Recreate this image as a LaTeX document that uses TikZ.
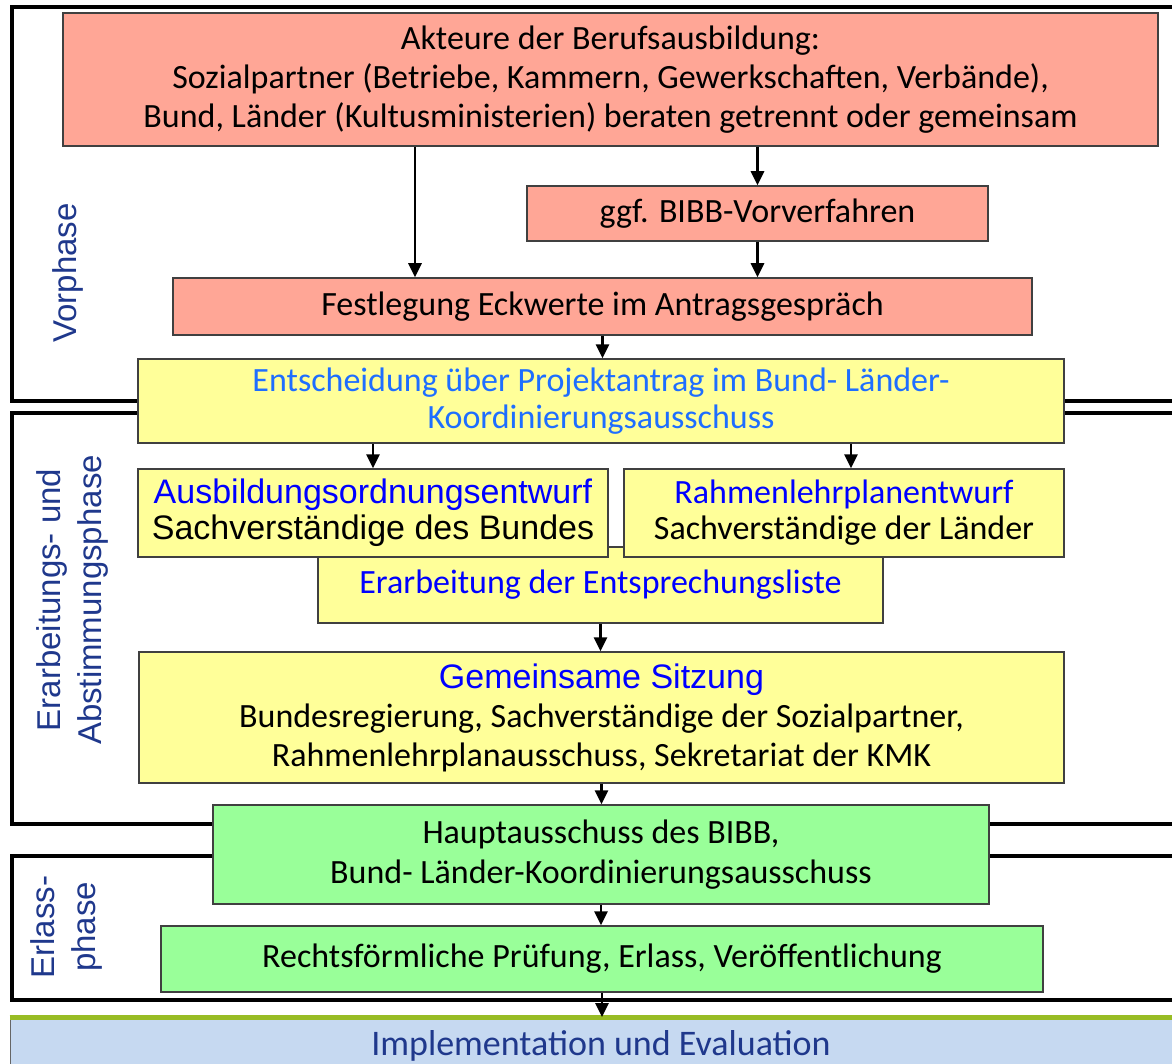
\documentclass[tikz,border=0pt]{standalone}
\usepackage{fontspec}
\setmainfont{Carlito}
\newfontfamily\arialfont{Liberation Sans}
\usetikzlibrary{arrows.meta}

\definecolor{lachs}{RGB}{255,166,150}
\definecolor{gelb}{RGB}{255,255,153}
\definecolor{hellgruen}{RGB}{153,255,153}
\definecolor{hellblau}{RGB}{198,217,241}
\definecolor{olivgruen}{RGB}{152,188,36}
\definecolor{phasenblau}{RGB}{31,56,140}
\definecolor{titelblau}{RGB}{0,0,255}
\definecolor{entschblau}{RGB}{30,110,255}

\tikzset{
  kasten/.style={draw=black!75, line width=0.75pt, inner sep=0pt, align=center,
    font=\fontsize{17}{19.5}\selectfont},
  rotkasten/.style={kasten, fill=lachs},
  gelbkasten/.style={kasten, fill=gelb},
  gruenkasten/.style={kasten, fill=hellgruen},
  pfeil/.style={line width=1.4pt, -{Triangle[width=6.5pt,length=7pt]}},
  rahmen/.style={line width=2pt},
  phase/.style={rotate=90, align=center, text=phasenblau,
    font=\arialfont\fontsize{16.5}{20.5}\selectfont},
}

\begin{document}
\begin{tikzpicture}[x=0.5pt,y=-0.5pt]
\useasboundingbox (0,0) rectangle (1172,1064);
\clip (0,0) rectangle (1172,1064);

% Phasenrahmen
\draw[rahmen] (1200,7) -- (12,7) -- (12,401) -- (1200,401);
\draw[rahmen] (1200,413) -- (12,413) -- (12,824) -- (1200,824);
\draw[rahmen] (1200,856) -- (12,856) -- (12,1000) -- (1200,1000);

\node[phase] (vorphase) at (68,273) {Vorphase};
\node[phase] (erarbphase) at (72,600) {Erarbeitungs- und\\Abstimmungsphase};
\node[phase] (erlassphase) at (66,927) {Erlass-\\phase};

% Vorphase
\node[rotkasten, minimum width=547.5pt, minimum height=66.5pt] (akteure) at (610.5,79.5)
  {Akteure der Berufsausbildung:\\Sozialpartner (Betriebe, Kammern, Gewerkschaften, Verbände),\\Bund, Länder (Kultusministerien) beraten getrennt oder gemeinsam};
\node[rotkasten, minimum width=230.5pt, minimum height=27.5pt] (vorverf) at (757.5,213.5) {ggf. BIBB-Vorverfahren};
\node[rotkasten, minimum width=429.5pt, minimum height=28.5pt] (eckwerte) at (602.5,306.5) {Festlegung Eckwerte im Antragsgespräch};
\node[gelbkasten, minimum width=463pt, minimum height=42pt, text=entschblau,
  font=\fontsize{17}{18.5}\selectfont] (entsch) at (601,401)
  {Entscheidung über Projektantrag im Bund- Länder-\\Koordinierungsausschuss};

% Erarbeitungs- und Abstimmungsphase
\node[gelbkasten, minimum width=282.5pt, minimum height=38pt, text=titelblau] (liste) at (600.5,585) {Erarbeitung der Entsprechungsliste};
\node[gelbkasten, minimum width=235pt, minimum height=44pt,
  font=\arialfont\fontsize{17}{18}\selectfont] (ausbo) at (373,513)
  {\textcolor{titelblau}{Ausbildungsordnungsentwurf}\\Sachverständige des Bundes};
\node[gelbkasten, minimum width=220pt, minimum height=44pt,
  font=\fontsize{17}{18}\selectfont] (rlp) at (844,513)
  {\textcolor{titelblau}{Rahmenlehrplanentwurf}\\Sachverständige der Länder};
\node[gelbkasten, minimum width=462.5pt, minimum height=65.5pt] (sitzung) at (601.5,717.5)
  {{\arialfont\fontsize{17}{19}\selectfont\textcolor{titelblau}{Gemeinsame Sitzung}}\\Bundesregierung, Sachverständige der Sozialpartner,\\Rahmenlehrplanausschuss, Sekretariat der KMK};

% Erlassphase
\node[gruenkasten, minimum width=388pt, minimum height=49.5pt,
  font=\fontsize{17}{20}\selectfont] (hauptaus) at (601,854.5)
  {Hauptausschuss des BIBB,\\Bund- Länder-Koordinierungsausschuss};
\node[gruenkasten, minimum width=441pt, minimum height=33pt] (erlass) at (602,959) {Rechtsförmliche Prüfung, Erlass, Veröffentlichung};

\node[fill=hellblau, draw=black!60, line width=0.5pt, inner sep=0pt, minimum width=591pt, minimum height=28.5pt,
  text=phasenblau, font=\fontsize{18}{20}\selectfont] (impl) at (601,1046) {Implementation und Evaluation};
\draw[olivgruen, line width=2.5pt] (impl.north west) -- (impl.north east);

% Pfeile
\coordinate (links) at (415,0);
\draw[pfeil] (akteure.south -| links) -- (eckwerte.north -| links);
\draw[pfeil] (akteure.south -| vorverf.north) -- (vorverf.north);
\draw[pfeil] (vorverf.south) -- (eckwerte.north -| vorverf.south);
\draw[pfeil] (eckwerte.south) -- (entsch.north -| eckwerte.south);
\draw[pfeil] (entsch.south -| ausbo.north) -- (ausbo.north);
\draw[pfeil] ([xshift=3.5pt]rlp.north |- entsch.south) -- ([xshift=3.5pt]rlp.north);
\draw[pfeil] (liste.south) -- (sitzung.north -| liste.south);
\draw[pfeil] (sitzung.south) -- (hauptaus.north -| sitzung.south);
\draw[pfeil] (hauptaus.south) -- (erlass.north -| hauptaus.south);
\draw[pfeil] (erlass.south) -- (impl.north -| erlass.south);
\end{tikzpicture}
\end{document}
